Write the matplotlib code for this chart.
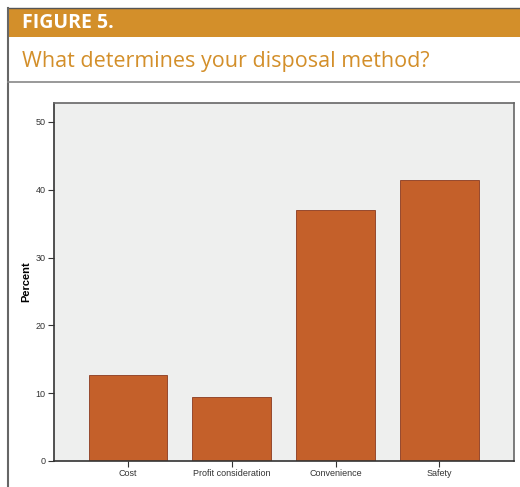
import matplotlib.pyplot as plt
from matplotlib.patches import Rectangle
from matplotlib.lines import Line2D

# Data
categories = ["Cost", "Profit consideration", "Convenience", "Safety"]
percent = [12.7, 9.5, 37.0, 41.4]
yticks = [0, 10, 20, 30, 40, 50]

orange = "#D38F2A"
bar_color = "#C4602A"

fig = plt.figure(figsize=(5.2, 4.87), dpi=100)
W, H = 520, 487

def fx(px):
    return px / W

def fy(py):
    return 1 - py / H

# header band and frame
fig.patches.append(Rectangle((fx(8), fy(37)), fx(512), 29 / H, transform=fig.transFigure,
                             facecolor=orange, edgecolor="none"))
fig.lines.append(Line2D([fx(8), 1], [fy(8), fy(8)], transform=fig.transFigure, color="#555555", lw=1))
fig.lines.append(Line2D([fx(8), fx(8)], [fy(8), 0], transform=fig.transFigure, color="#666666", lw=1.5))
fig.lines.append(Line2D([fx(8), 1], [fy(82), fy(82)], transform=fig.transFigure, color="#888888", lw=1.2))

fig.text(fx(22), fy(23), "FIGURE 5.", color="white", fontsize=14, fontweight="bold",
         family="Open Sans", va="center")
fig.text(fx(22), fy(61), "What determines your disposal method?", color=orange, fontsize=15.5,
         family="Open Sans", va="center")

# plot area
ax = fig.add_axes([fx(54), fy(461), fx(514 - 54), (461 - 103) / H])
ax.set_facecolor("#EEEFEE")
x = list(range(len(categories)))
ax.bar(x, percent, width=0.76, color=bar_color, edgecolor="#8B3A1F", linewidth=0.6, zorder=2)
ax.set_xlim(-0.714, 3.72)
ax.set_ylim(0, 52.8)
ax.set_yticks(yticks)
ax.set_xticks(x)
ax.set_xticklabels(categories)
ax.tick_params(labelsize=6.5, length=4, width=0.8, colors="#333333", pad=2)
for lbl in ax.get_xticklabels() + ax.get_yticklabels():
    lbl.set_family("Liberation Sans")
ax.set_ylabel("Percent", fontsize=8, fontweight="bold", labelpad=3, family="Liberation Sans")
ax.spines["left"].set_color("#333333")
ax.spines["bottom"].set_color("#333333")
ax.spines["top"].set_color("#666666")
ax.spines["right"].set_color("#666666")
for side in ["top", "right", "left", "bottom"]:
    ax.spines[side].set_linewidth(1.2)

fig.savefig("out.png", dpi=100)
